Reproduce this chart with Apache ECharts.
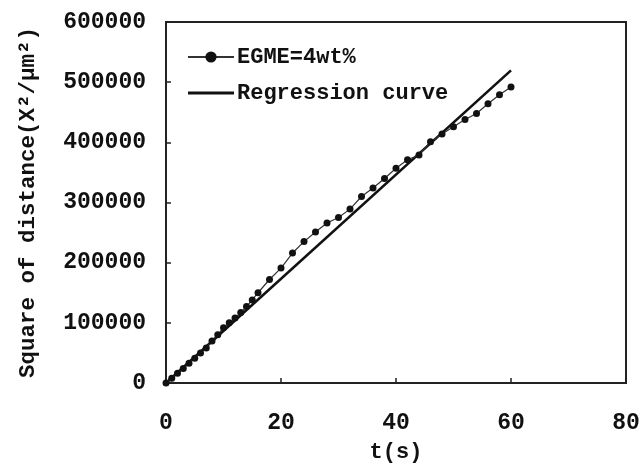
<!DOCTYPE html>
<html>
<head>
<meta charset="utf-8">
<script src="https://cdn.jsdelivr.net/npm/echarts@6/dist/echarts.min.js"></script>
<style>
  html, body { margin: 0; padding: 0; background: #fff; }
  #chart { width: 642px; height: 469px; }
</style>
</head>
<body>
<div id="chart"></div>
<script>
// Measured diffusion: squared distance vs. time
const timeS = [0, 1, 2, 3, 4, 5, 6, 7, 8, 9, 10, 11, 12, 13, 14, 15, 16,
  18, 20, 22, 24, 26, 28, 30, 32, 34, 36, 38, 40, 42, 44, 46, 48, 50, 52, 54, 56, 58, 60];
const sqDistance = [0, 8000, 16000, 24000, 33000, 41000, 50000, 58000, 70000, 80000, 92000,
  100000, 108000, 117000, 127000, 138000, 150000,
  172000, 191000, 216000, 235000, 251000, 266000, 275000, 289000, 310000, 324000,
  340000, 357000, 371000, 379000, 401000, 414000, 426000, 438000, 448000, 464000, 479000, 492000];

// Linear fit endpoints
const fitT = [0, 60];
const fitY = [0, 519600];

const seriesNames = ['EGME=4wt%', 'Regression curve'];
const xTicks = [0, 20, 40, 60, 80];
const yTicks = [0, 100000, 200000, 300000, 400000, 500000, 600000];

const monoFont = '"Liberation Mono", "DejaVu Sans Mono", monospace';

const chart = echarts.init(document.getElementById('chart'), null, { renderer: 'canvas' });
chart.setOption({
  animation: false,
  backgroundColor: '#fff',
  grid: {
    left: 166, right: 16, top: 22, bottom: 86,
    outerBoundsMode: 'none',
    show: true, borderColor: '#222', borderWidth: 2, backgroundColor: 'transparent'
  },
  legend: {
    orient: 'vertical',
    left: 182, top: 41,
    itemWidth: 46, itemHeight: 14, itemGap: 14,
    textStyle: { fontFamily: monoFont, fontSize: 22, color: '#111', fontWeight: 'bold', padding: [0, 0, 0, -2] },
    data: [
      { name: seriesNames[0] },
      // plain solid bar for the fitted line (no marker)
      { name: seriesNames[1], icon: 'path://M0,0H100V6H0Z' }
    ]
  },
  xAxis: {
    type: 'value',
    min: xTicks[0], max: xTicks[xTicks.length - 1], interval: 20,
    name: 't(s)', nameLocation: 'middle', nameGap: 58,
    nameTextStyle: { fontFamily: monoFont, fontSize: 22, fontWeight: 'bold', color: '#111' },
    axisLine: { show: true, lineStyle: { color: '#222', width: 2 } },
    axisTick: { show: true, inside: true, length: 5, lineStyle: { color: '#222', width: 1.5 } },
    axisLabel: { fontFamily: monoFont, fontSize: 23, fontWeight: 'bold', color: '#111', margin: 29,
      formatter: v => String(v) },
    splitLine: { show: false }
  },
  yAxis: {
    type: 'value',
    min: yTicks[0], max: yTicks[yTicks.length - 1], interval: 100000,
    name: 'Square of distance(X²/μm²)', nameLocation: 'middle', nameGap: 126, nameRotate: 90,
    nameTextStyle: { fontFamily: monoFont, fontSize: 22.5, fontWeight: 'bold', color: '#111' },
    axisLine: { show: true, lineStyle: { color: '#222', width: 2 } },
    axisTick: { show: true, inside: true, length: 5, lineStyle: { color: '#222', width: 1.5 } },
    axisLabel: { fontFamily: monoFont, fontSize: 23, fontWeight: 'bold', color: '#111', margin: 20,
      formatter: v => String(v) },
    splitLine: { show: false }
  },
  series: [
    {
      name: seriesNames[0],
      type: 'line',
      data: timeS.map((t, i) => [t, sqDistance[i]]),
      symbol: 'circle', symbolSize: 7,
      itemStyle: { color: '#111' },
      lineStyle: { color: '#333', width: 1.2 },
      z: 3
    },
    {
      name: seriesNames[1],
      type: 'line',
      data: fitT.map((t, i) => [t, fitY[i]]),
      symbol: 'none',
      itemStyle: { color: '#111' },
      lineStyle: { color: '#111', width: 2.6 },
      z: 2
    }
  ]
});
</script>
</body>
</html>
